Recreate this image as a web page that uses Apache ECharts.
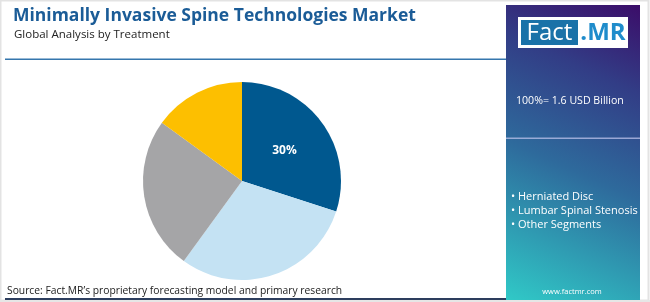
<!DOCTYPE html>
<html>
<head>
<meta charset="utf-8">
<script src="https://cdn.jsdelivr.net/npm/echarts@6/dist/echarts.min.js"></script>
<style>
html,body{margin:0;padding:0;background:#fff;}
#chart{width:650px;height:302px;}
</style>
</head>
<body>
<div id="chart"></div>
<script>
var titleText = 'Minimally Invasive Spine Technologies Market';
var subtitleText = 'Global Analysis by Treatment';
var sliceNames = ['Herniated Disc', 'Lumbar Spinal Stenosis', 'Other Segments', 'Others'];
var sliceValues = [30, 30, 25, 15];
var sliceColors = ['#00588f', '#c4e2f3', '#a5a5a7', '#fdbf00'];
var legendLabels = ['Herniated Disc', 'Lumbar Spinal Stenosis', 'Other Segments'];
var totalText = '100%= 1.6 USD Billion';
var sourceText = 'Source: Fact.MR\u2019s proprietary forecasting model and primary research';

var chart = echarts.init(document.getElementById('chart'), null, {renderer: 'canvas'});
var FONT = '"Open Sans", sans-serif';

var pieData = sliceNames.map(function (n, i) {
  return {
    name: n,
    value: sliceValues[i],
    itemStyle: {color: sliceColors[i]},
    label: {show: i === 0}
  };
});

var graphics = [
  {type: 'rect', z: -10, shape: {x: 0.5, y: 0.5, width: 648, height: 300}, style: {fill: '#fff', stroke: '#e3e3e3', lineWidth: 2}},
  {type: 'rect', z: -9, shape: {x: 0, y: 300, width: 650, height: 2}, style: {fill: '#e6e6e6'}},
  {type: 'rect', shape: {x: 5, y: 58.5, width: 501, height: 1.5}, style: {fill: '#3576ad'}},
  {type: 'rect', shape: {x: 5, y: 298, width: 501, height: 2}, style: {fill: '#2d3e5e'}},
  {type: 'rect', shape: {x: 506, y: 5, width: 134, height: 295},
    style: {fill: new echarts.graphic.LinearGradient(0, 1, 1, 0, [
      {offset: 0, color: '#30c9c7'},
      {offset: 0.45, color: '#2e6a9c'},
      {offset: 0.75, color: '#323d86'},
      {offset: 1, color: '#3b0d69'}
    ])}},
  {type: 'rect', shape: {x: 518, y: 17, width: 110, height: 31}, style: {fill: '#ffffff'}},
  {type: 'rect', shape: {x: 521, y: 20, width: 57, height: 25}, style: {fill: '#1a72a8'}},
  {type: 'text', style: {x: 549.5, y: 33, text: 'Fact', fill: '#ffffff', font: '400 24px ' + FONT, textAlign: 'center', textVerticalAlign: 'middle'}},
  {type: 'text', style: {x: 603, y: 33, text: '.MR', fill: '#1f8ccb', font: '700 24px ' + FONT, textAlign: 'center', textVerticalAlign: 'middle'}},
  {type: 'text', style: {x: 516, y: 101, text: totalText, fill: '#ffffff', font: '400 10.6px ' + FONT, textVerticalAlign: 'middle'}},
  {type: 'rect', shape: {x: 506, y: 137.5, width: 134, height: 1.5}, style: {fill: 'rgba(190,195,235,0.75)'}},
  {type: 'text', style: {x: 572, y: 292, text: 'www.factmr.com', fill: '#ffffff', font: '400 7.5px ' + FONT, textAlign: 'center', textVerticalAlign: 'middle'}},
  {type: 'text', style: {x: 7, y: 291, text: sourceText, fill: '#222222', font: '400 10.3px ' + FONT, textVerticalAlign: 'middle'}}
];

legendLabels.forEach(function (t, i) {
  graphics.push({type: 'text', style: {x: 511, y: 197 + i * 14, text: '\u2022 ' + t, fill: '#ffffff', font: '400 11px ' + FONT, textVerticalAlign: 'middle'}});
});

chart.setOption({
  animation: false,
  backgroundColor: 'transparent',
  title: [
    {text: titleText, left: 8, top: 2, textStyle: {fontFamily: FONT, fontWeight: 700, fontSize: 17.5, color: '#1b5c97'}},
    {text: subtitleText, left: 9, top: 24, textStyle: {fontFamily: FONT, fontWeight: 400, fontSize: 11.5, color: '#222222'}}
  ],
  graphic: graphics,
  series: [{
    type: 'pie',
    center: [242, 181],
    radius: 99,
    startAngle: 90,
    clockwise: true,
    silent: true,
    data: pieData,
    labelLine: {show: false},
    label: {
      position: 'inside',
      formatter: '{c}%',
      color: '#ffffff',
      fontFamily: FONT,
      fontWeight: 700,
      fontSize: 12
    },
    itemStyle: {borderWidth: 0}
  }]
});
</script>
</body>
</html>
